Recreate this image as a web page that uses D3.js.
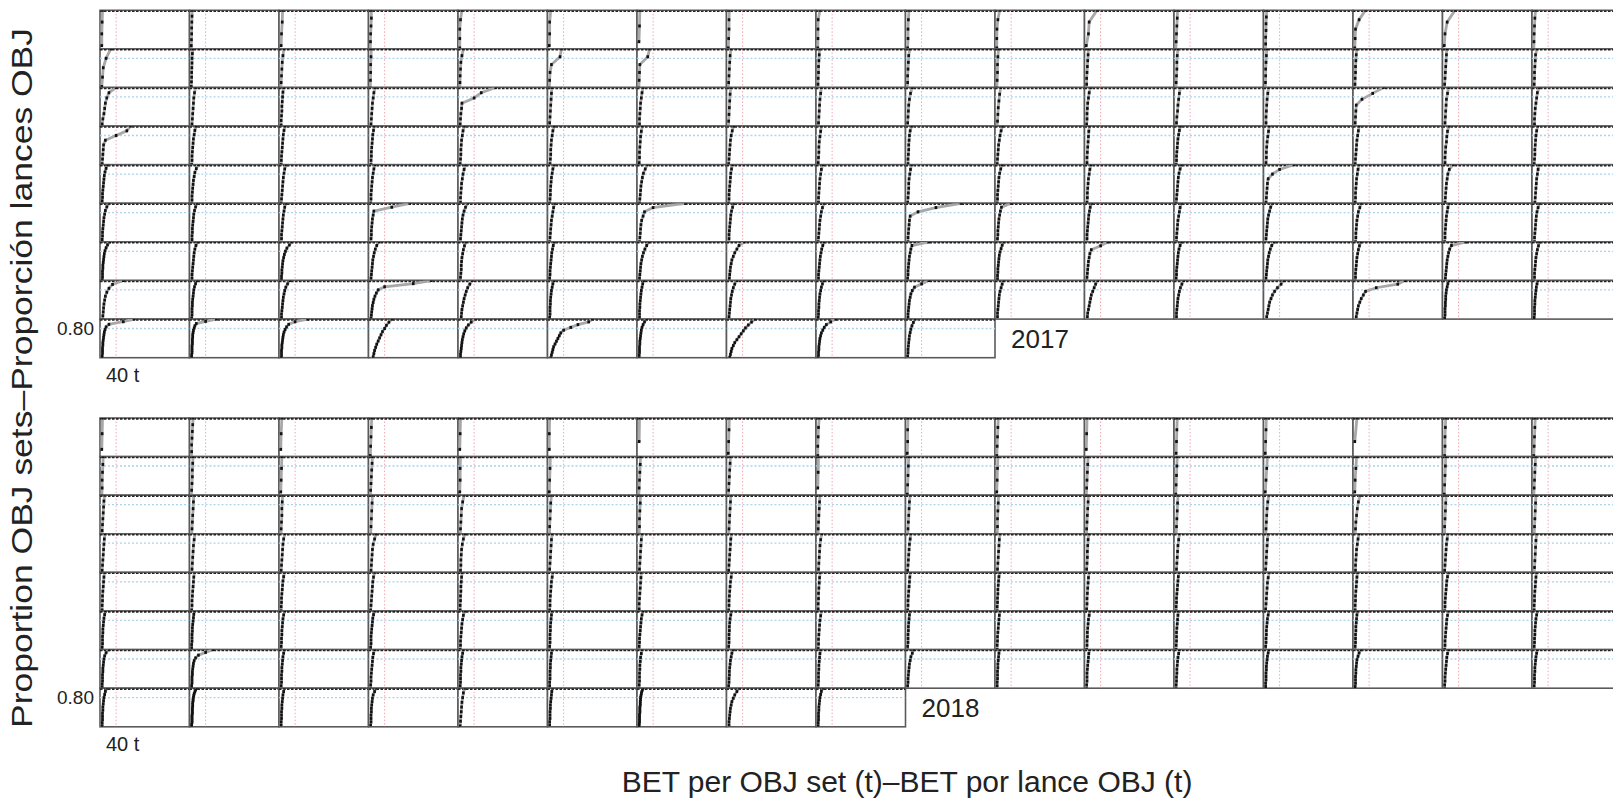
<!DOCTYPE html>
<html lang="en">
<head>
<meta charset="utf-8">
<title>BET per OBJ set</title>
<script src="https://cdn.jsdelivr.net/npm/d3@7"></script>
<style>
body { margin: 0; background: #fff; }
text { font-family: "Liberation Sans", Arial, sans-serif; fill: #222; }
</style>
</head>
<body>
<script>

// BET (t) of each OBJ set, one string per vessel panel; "v*k" = k sets of v t
var sets2017 = [
  ["0 0 1 2", "0 0 0.5 1 1 1.5 2 3", "1 2 4 5", "0 0.5 1 2 3 3", "0 0 0 2 6", "0 1 1 4", "0.5 2 3", "0 1 2 2 3",
   "0 0.5 0.5 1 6", "1 2 2 3 5", "0 0 0.5 3 8", "0 6 8 30", "0 1 2 3 4 5", "0 1 1 2 2 3 4", "0 1 2 12 30", "0 2 8 30", "0 0.5 1 2 3 5"],
  ["0 2 4 12 25", "0 0 0.5 1 1 1.5 2 2 3 4", "0 1 2 3 4 6 9", "0 0.5 1 1 2 3", "0 0.5 1 2 3 6 10", "0 1 2 6 30 34", "0 1 2 3 25 30",
   "0 1 2 3 4 5 8", "0 0.5 1 2 2 3 4 5", "0 1 1 2 3 4 7", "0 1 2 2 3 5", "0 1 1 2 3 4 5 6", "0 1 2 3 3 4 6", "0 0.5 1 1 2 3 4",
   "0 0.5 1 2 2 3 4 6", "0 1 2 3 4 5 6 7", "0 1 2 2 3 4 5 9"],
  ["0 1 3 6 8 10 14 20 40", "1 2 3 4 5 6 7 9 12", "0 1 1 2 3 3 4 5 6 8", "1 2 3 4 5 6 8 10 14", "0 1 2 3 5 6 40 60 100",
   "1 1 2 3 4 5 6 7", "1 2 2 3 4 5 7 9 12", "0 1 2 3 4 5 7", "1 2 3 4 5 6 8 10", "1 1 2 3 4 6 9 14", "1 2 3 4 6 8 11",
   "0 1 2 2 3 4 6 8 12", "1 2 3 5 6 8 10 13", "1 2 2 3 4 5 7 9", "0 1 2 3 4 20 50 80", "1 2 3 4 5 6 9 12", "1 2 2 3 4 6 8 10 15"],
  ["0 1 2 3 4 5 10 40 70 80", "1 1 2 2 3 4 5 6 8 10 14", "0.5 1 1.5 2 3 4 5 6 7 9 12", "1 2 2 3 3 4 5 6 7 9 11",
   "1 1 2 3 3 4 5 7 9 13", "1 2 3 4 4 5 6 8 10 14", "1 1 2 2 3 4 5 7 10", "0.5 1 2 3 4 5 6 8 11 15", "1 1 2 3 3 4 6 8 10",
   "1 2 2 3 4 4 5 6 8 12", "1 1 2 3 4 5 7 9 12 16", "1 2 2 3 4 5 6 7 9", "1 1 2 2 3 4 5 6 8 10 13", "1 2 3 3 4 5 7 9 11",
   "1 1 2 3 4 5 6 8 10 12", "1 2 2 3 4 6 7 9 13", "1 1 2 3 3 4 5 6 8 11"],
  ["1*3 2 2 3 4 5 6 7 9 12 16", "1 1 2 2 3 4 5 6 8 10 14 20", "1 1 2 3 4 5 6 7 9 11 15", "1*2 2*2 3 4 5 6 8 10 13",
   "1 2 2 3 4 5 7 9 12 16", "1 1 2 3 3 4 5 6 8 10 14", "1 2 3 4 5 6 8 10 13 18 24", "1 1 2 2 3 4 5 6 7 9 12",
   "1 2 2 3 4 5 6 8 10 14", "1 1 2 3 4 4 5 7 9 12", "1 1 2 2 3 4 5 6 8 11 15", "1 2 3 3 4 5 6 8 10 13",
   "1 1 2 3 4 5 6 7 9 12 16", "1 2 3 4 5 6 8 20 40 80", "1 1 2 2 3 4 5 7 9 12", "1 2 3 4 5 6 8 10 14 25", "2 3 4 5 6 7 8 10 12 14"],
  ["1*3 2*2 3 4 5 6 8 10 14 20", "1*2 2*2 3*2 4 5 6 7 9 12 16", "1 1 2 2 3 4 5 6 7 9 11 14", "1 1 2 3 3 4 5 6 8 10 60 110",
   "1 2 2 3 4 5 6 7 9 12 16 22", "1*2 2 3 4 5 6 8 10 12 15", "1 2 3 4 5 6 8 12 16 40 130", "1 1 2 2 3 4 5 6 7 9 12 15",
   "1 1 2 3 4 5 6 8 10 13 18", "1 2 2 3 4 5 6 8 30 80 150", "1 1 2 3 3 4 5 6 8 10 13 40", "1 1 2 2 3 4 5 6 7 9 11 15",
   "1 2 2 3 4 5 6 8 10 12 16", "1 1 2 3 4 5 6 7 9 12 15 20", "1 2 3 3 4 5 6 8 10 14 18", "1 1 2 2 3 4 5 6 8 10 13",
   "1 2 2 3 4 5 6 7 9 12 16"],
  ["1*3 2*3 3*2 4 5 6 7 9 12 16 22", "1*2 2*2 3 4 5 6 7 8 10 13 18", "1*2 2*2 3 3 4 5 6 8 10 13 17 24 30",
   "1 1 2 3 4 5 6 7 9 11 14 18 24", "1*2 2 3 4 4 5 6 8 10 13 17", "1*3 2*2 3 4 5 6 7 9 11 14", "1 2 2 3 4 5 6 8 10 13 17 22 28",
   "1 2 3 4 5 6 8 10 14 18 24 30 45", "1*2 2*2 3 4 5 6 7 9 11 14 18", "1*3 2*2 3 4 5 6 8 10 13 60",
   "1*2 2*2 3 3 4 5 6 7 9 12 15 20", "1*2 2 3 4 5 6 8 10 14 40 60", "1*3 2*2 3 4 5 6 7 9 12 16", "1*2 2 3 4 5 6 7 9 11 14 18 25",
   "1*2 2*2 3 4 5 6 8 10 13 17", "1 2 3 4 5 6 7 8 10 12 15 20 60", "1*2 2*2 3 4 5 6 8 10 13 16"],
  ["1 2 3 4 5 6 8 10 14 20 30 60", "1*3 2*3 3*2 4 5 6 7 9 12 16", "1*2 2*2 3 4 5 6 7 9 11 14 19 25",
   "1*2 2 3 4 5 6 8 10 13 17 22 40 120 170", "2 3 4 5 6 8 10 12 15 18 22 28 35", "1*3 2*3 3*2 4 5 6 8 10 13",
   "1*2 2*3 3*2 4 5 6 7 9 11 14", "1*2 2 3 4 5 6 7 9 11 14 18 24", "1*3 2*2 3*2 4 5 6 8 10 13 17",
   "1*2 2*2 3 4 5 6 8 10 14 20 40 60", "1*2 2*2 3 4 5 6 7 9 12 15 19", "1 2 3 4 6 8 10 12 14 18 22 26 32",
   "1*2 2*2 3 4 5 6 8 10 13 17 22", "2 3 4 6 8 10 12 16 20 26 34 44 52", "2 3 4 6 8 10 14 18 24 30 60 120 140",
   "1*3 2*3 3*2 4*2 5 6 8 10 13", "1*3 2*3 3*2 4 5 6 7 9 12"],
  ["1*4 2*3 3*2 4 5 6 7 9 12 20 60 90", "1*5 2*4 3*3 4*2 5 6 8 10 14 40 70", "1*3 2*3 3*2 4 5 6 7 9 12 16 22 40 75",
   "3 5 8 10 12 15 18 22 26 30 34 40 45 52 60", "1*2 2*2 3 4 5 6 7 9 11 14 18 24 32 44",
   "2 3 4 6 8 10 12 16 20 24 28 32 40 60 80 110 120", "1*4 2*3 3*2 4 5 6 7 9 12 16 22",
   "2 3 4 6 8 10 14 18 24 30 36 42 48 56 65 75", "1*3 2*2 3*2 4 5 6 8 10 14 18 24 36 50", "1*3 2*2 3 4 5 6 8 10 13 17 22"]
];

var sets2018 = [
  ["0 1 2", "0 1 1 2 3 4 5", "0 1 3", "0 1 2 3 4", "0 1 2", "0 0 1", "1 2", "0 1 2 3", "0 0 1 2 4", "0 1 1 2",
   "0 1 2 3 4", "0 1 2", "1 2 3 4", "0 1 2 3", "0 6", "1 2 2 3 4", "0 1 2 3 4"],
  ["0 1 1 2 3 4", "0 1 2 3 3 4 5", "0 1 2 3", "0 1 2 3 4 5 6", "0 1 1 2", "0 1 2 3", "0 1 2 3 4 5", "0 1 2 3 4 5 6",
   "0 1 2", "0 1 2 3 4", "0 1 2 3", "0 1 2 3 4 5", "0 1 2 3 4", "0 2 4 6", "0 1 3 5", "0 1 2 3 4", "0 1 2 3 4 5"],
  ["1 1 2 3 4 5 6 8", "1 2 3 4 5 6 7", "1 1 2 3 3 4 5", "1 2 3 4 5 6", "1 2 3 4 5 8 12", "1 1 2 3 4 6", "1 2 2 3 4 5",
   "1 2 3 4 5 6 7", "1 1 2 3 4 5 6", "1 2 3 4 5 6 8", "1 2 2 3 4 5", "1 1 2 3 4 5 6", "1 2 3 4 5 6", "1 2 3 4 5 7 10",
   "1 2 3 5 7 10 15", "1 1 2 3 4 5", "1 2 3 4 5 6"],
  ["1*2 2 3 4 5 6 7 9", "1 2 3 4 5 6 8 10", "1 1 2 3 4 5 6 8 11", "1 2 3 4 5 6 8 12 16", "1 2 3 3 4 5 7 10 14",
   "1*2 2 3 4 5 6 8", "1 2 3 4 5 6 7 9", "1*2 2 3 4 5 6 7 9", "1 2 3 4 5 6 8 11", "1*2 2 3 4 5 6 8 10", "1 2 3 4 5 6 7 9",
   "1*2 2 3 3 4 5 7", "1 2 3 4 5 6 8 10", "1*2 2 3 4 5 6 8", "1 2 2 3 4 5 7 9 12", "1*2 2 3 4 5 6 8 10", "1 2 3 4 5 6 8"],
  ["1*3 2*2 3 4 5 6 8", "1*2 2*2 3 4 5 6 7 9", "1*3 2*2 3 4 5 6 8 10", "1*2 2 3 4 5 6 7 9 12", "1*3 2*2 3*2 4 5 7",
   "1*2 2*2 3 4 5 6 8 10", "1*3 2 3 4 5 6 7", "1*2 2*2 3 4 5 6 8 10", "1*3 2*2 3 4 5 7", "1*2 2*2 3 4 5 6 7 9",
   "1*3 2*2 3*2 4 5 6 8", "1*2 2*2 3 4 5 6 8", "1*3 2*2 3 4 5 6 7 9", "1*2 2 3 4 5 6 8 11", "1*3 2*2 3 4 5 6 8",
   "1*2 2*2 3 4 5 6 7 9 12", "1*3 2*2 3 4 5 6 8"],
  ["1*3 2*3 3*2 4 5 6 8 10", "1*4 2*3 3*2 4 5 6 7 9", "1*3 2*2 3*2 4 5 6 8 11", "1*3 2*3 3 4 5 6 7 9 12",
   "1*2 2*2 3 4 5 6 8 10 14", "1*3 2*3 3*2 4 5 6 8", "1*3 2*2 3 4 5 6 7 9 12", "1*3 2*3 3*2 4 5 7 9", "1*2 2*2 3 4 5 6 8 10",
   "1*3 2*3 3*2 4 5 6 8", "1*3 2*2 3 4 5 6 7 9", "1*2 2*2 3*2 4 5 6 8 10", "1*3 2*3 3 4 5 6 7", "1*3 2*2 3*2 4 5 6 8 10",
   "1*3 2*3 3*2 4 5 6 8", "1*2 2*2 3 4 5 6 7 9 12", "1*3 2*2 3*2 4 5 6 8 10"],
  ["1*4 2*3 3*2 4 5 6 8 12 20", "1*4 2*3 3*2 4 5 6 8 12 20 40 60", "1*3 2*3 3*2 4 5 6 8 10", "1*3 2*2 3 4 5 6 7 9 12",
   "1*3 2*3 3*2 4 5 6 8 10", "1*4 2*3 3*2 4 5 6 8", "1*3 2*3 3*2 4 5 7 9", "1*3 2*2 3*2 4 5 6 8 10 14", "1*3 2*3 3*2 4 5 6 8",
   "1*3 2*2 3 4 5 6 8 10 14 18", "1*4 2*3 3*2 4 5 6 8", "1*3 2*3 3 4 5 6 7 9", "1*3 2*2 3*2 4 5 6 8 10",
   "1*4 2*3 3*2 4 5 6 8 10", "1*3 2*3 3*2 4 5 6 9 12 18", "1*3 2*2 3 4 5 6 7 9 12", "1*3 2*3 3*2 4 5 6 8 10"],
  ["1*4 2*3 3*2 4 5 6 8 10 14", "1*6 2*5 3*4 4*3 5*2 6 7 8 10 12 16", "1*4 2*3 3*2 4 5 6 8 10", "1*3 2*3 3*2 4 5 6 8 12 16",
   "1*2 2 3 4 5 6 8 10 14", "1*4 2*3 3*2 4 5 6 7 9", "1*6 2*5 3*4 4*3 5*2 6 7 8 10 12",
   "1*2 2*2 3 4 5 6 8 10 14 18 24 30", "1*4 2*3 3*2 4 5 6 8 10 14"]
];

var years = ["2017", "2018"];
var yearTops = [10.3, 418];
var yTicks = [0.80];
var xTicks = [40];
var refBet = 40, refProp = 0.80;

var w = 1613, h = 802;
var left = 100, pw = 89.5, ph = 38.6;

var svg = d3.select("body").append("svg").attr("width", w).attr("height", h);

var x = d3.scaleLinear().domain([-5, 245]).range([0, pw]);
var y = d3.scaleLinear().domain([0.18, 1]).range([ph, 0]);

function parseSets(s) {
  var out = [];
  s.split(" ").forEach(function(tok) {
    var p = tok.split("*");
    var k = p.length > 1 ? +p[1] : 1;
    for (var j = 0; j < k; j++) out.push(+p[0]);
  });
  out.sort(d3.ascending);
  return out.map(function(v, i) { return { bet: v, prop: (i + 1) / out.length }; });
}

var line = d3.line().x(function(d) { return x(d.bet); }).y(function(d) { return y(d.prop); });
var clipId = 0;

[sets2017, sets2018].forEach(function(rows, b) {
  var top = yearTops[b];
  var block = svg.append("g").attr("transform", "translate(" + left + "," + top + ")");

  rows.forEach(function(row, r) {
    row.forEach(function(s, c) {
      var pts = parseSets(s);
      var g = block.append("g").attr("transform", "translate(" + (c * pw) + "," + (r * ph) + ")");
      var id = "clip" + (clipId++);
      g.append("clipPath").attr("id", id).append("rect")
        .attr("width", pw).attr("height", ph);

      g.append("rect").attr("width", pw).attr("height", ph)
        .attr("fill", "#fff").attr("stroke", "#5a5a5a").attr("stroke-width", 1.6);

      var inner = g.append("g").attr("clip-path", "url(#" + id + ")");
      inner.append("line")
        .attr("x1", x(refBet)).attr("x2", x(refBet)).attr("y1", 0).attr("y2", ph)
        .attr("stroke", "#f2a5b0").attr("stroke-width", 1).attr("stroke-dasharray", "1.5,2");
      if (r > 0) {
        inner.append("line")
          .attr("x1", 0).attr("x2", pw).attr("y1", y(refProp)).attr("y2", y(refProp))
          .attr("stroke", "#a9d4ee").attr("stroke-width", 1.3).attr("stroke-dasharray", "2,2");
      }
      inner.append("line")
        .attr("x1", 0).attr("x2", pw).attr("y1", y(1) + 0.9).attr("y2", y(1) + 0.9)
        .attr("stroke", "#222").attr("stroke-width", 1.6).attr("stroke-dasharray", "2.5,1.5");
      inner.append("path").datum(pts).attr("d", line)
        .attr("fill", "none").attr("stroke", "#a8a8a8").attr("stroke-width", 2.8);
      inner.selectAll(".pt").data(pts).enter().append("rect")
        .attr("class", "pt")
        .attr("x", function(d) { return x(d.bet) - 1.3; })
        .attr("y", function(d) { return y(d.prop) - 1.5; })
        .attr("width", 2.6).attr("height", 3)
        .attr("fill", "#111");
    });
  });

  var last = rows.length - 1;
  var nLast = rows[last].length;

  // y tick on the last row
  block.append("g")
    .attr("transform", "translate(0," + (last * ph) + ")")
    .call(d3.axisLeft(y).tickValues(yTicks).tickSize(0).tickPadding(6).tickFormat(d3.format(".2f")))
    .call(function(a) { a.select(".domain").remove(); })
    .selectAll("text")
    .attr("font-size", 19).attr("font-family", "Liberation Sans, Arial, sans-serif").attr("fill", "#222");

  // x tick under the first panel
  block.append("g")
    .attr("transform", "translate(0," + (rows.length * ph) + ")")
    .call(d3.axisBottom(x).tickValues(xTicks).tickSize(0).tickPadding(10).tickFormat(function(d) { return d + " t"; }))
    .call(function(a) { a.select(".domain").remove(); })
    .selectAll("text")
    .attr("dx", "0.3em")
    .attr("font-size", 20).attr("font-family", "Liberation Sans, Arial, sans-serif").attr("fill", "#222");

  block.append("text")
    .attr("x", nLast * pw + 16)
    .attr("y", last * ph + 29)
    .attr("font-size", 26)
    .text(years[b]);
});

svg.append("text")
  .attr("x", 907).attr("y", 792)
  .attr("text-anchor", "middle")
  .attr("font-size", 30)
  .text("BET per OBJ set (t)\u2013BET por lance OBJ (t)");

svg.append("text")
  .attr("transform", "translate(32,378) rotate(-90)")
  .attr("text-anchor", "middle")
  .attr("font-size", 30)
  .attr("textLength", 700)
  .attr("lengthAdjust", "spacingAndGlyphs")
  .text("Proportion OBJ sets\u2013Proporci\u00f3n lances OBJ");

</script>
</body>
</html>
